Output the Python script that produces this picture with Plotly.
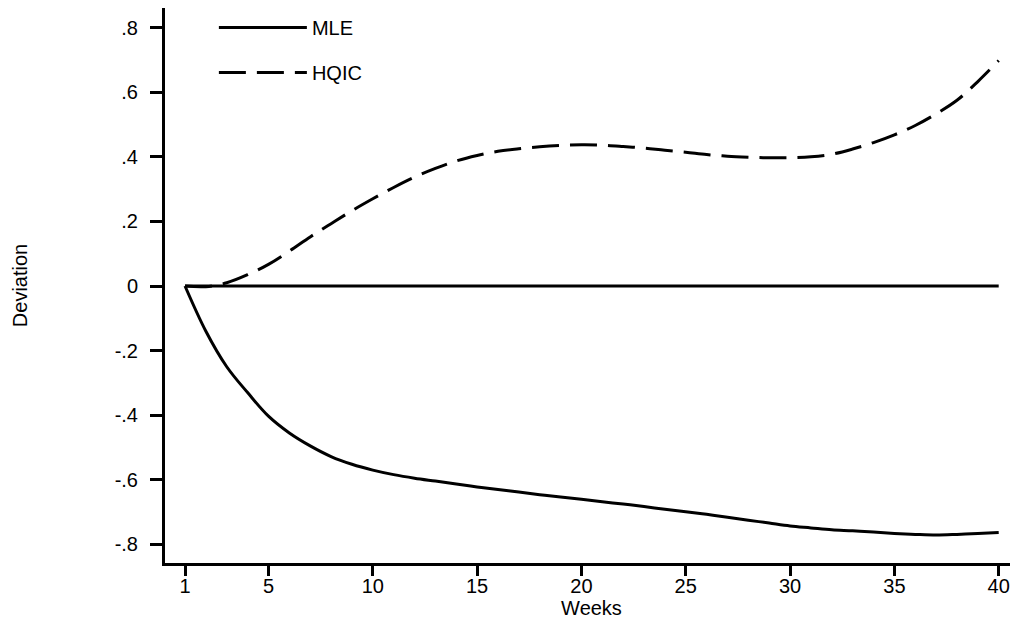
import plotly.graph_objects as go

weeks = list(range(1, 41))

mle = [0.0] * 40

hqic = [0.0, -0.002, 0.010, 0.035, 0.067, 0.108, 0.152, 0.193, 0.233, 0.270,
        0.305, 0.337, 0.364, 0.387, 0.404, 0.417, 0.425, 0.431, 0.435, 0.437,
        0.436, 0.432, 0.427, 0.420, 0.414, 0.407, 0.402, 0.399, 0.397, 0.397,
        0.400, 0.408, 0.424, 0.444, 0.468, 0.497, 0.533, 0.575, 0.633, 0.698]

lower = [0.0, -0.140, -0.250, -0.330, -0.403, -0.455, -0.495, -0.528, -0.552, -0.570,
         -0.584, -0.595, -0.604, -0.613, -0.622, -0.630, -0.638, -0.646, -0.653, -0.660,
         -0.668, -0.675, -0.683, -0.691, -0.699, -0.707, -0.716, -0.725, -0.734, -0.743,
         -0.749, -0.755, -0.758, -0.762, -0.766, -0.769, -0.771, -0.769, -0.766, -0.763]

x_ticks = [1, 5, 10, 15, 20, 25, 30, 35, 40]
y_ticks = [0.8, 0.6, 0.4, 0.2, 0.0, -0.2, -0.4, -0.6, -0.8]
y_ticktext = [".8", ".6", ".4", ".2", "0", "-.2", "-.4", "-.6", "-.8"]

FONT = "Arial, Liberation Sans, sans-serif"

fig = go.Figure()
fig.add_trace(go.Scatter(x=weeks, y=mle, mode="lines", name="MLE",
                         legendgroup="a",
                         line=dict(color="black", width=3)))
fig.add_trace(go.Scatter(x=weeks, y=hqic, mode="lines", name="HQIC",
                         legendgroup="b",
                         line=dict(color="black", width=3, dash="27px,11px", shape="spline")))
fig.add_trace(go.Scatter(x=weeks, y=lower, mode="lines", name="Deviation",
                         showlegend=False,
                         line=dict(color="black", width=3, shape="spline")))

fig.update_layout(
    width=1010, height=613,
    margin=dict(l=157, r=0, t=0, b=58, autoexpand=False),
    paper_bgcolor="white", plot_bgcolor="white",
    font=dict(family=FONT, size=20, color="black"),
    showlegend=True,
    legend=dict(x=0.0573, y=1.0, xanchor="left", yanchor="top",
                bgcolor="rgba(0,0,0,0)", borderwidth=0,
                font=dict(family=FONT, size=20, color="black"),
                traceorder="grouped", tracegroupgap=16, itemwidth=88),
    xaxis=dict(range=[0.041, 40.925], tickvals=x_ticks,
               showgrid=False, zeroline=False, automargin=False,
               showline=True, linecolor="black", linewidth=3,
               ticks="outside", ticklen=10, tickwidth=3, tickcolor="black",
               ticklabelstandoff=-7,
               tickfont=dict(family=FONT, size=20, color="black"),
               title=dict(text="Weeks", standoff=0,
                          font=dict(family=FONT, size=20, color="black"))),
    yaxis=dict(range=[-0.8576, 0.8607], tickvals=y_ticks, ticktext=y_ticktext,
               showgrid=False, zeroline=False, automargin=False,
               showline=True, linecolor="black", linewidth=3,
               ticks="outside", ticklen=12, tickwidth=3, tickcolor="black",
               ticklabelstandoff=8,
               tickfont=dict(family=FONT, size=20, color="black"),
               title=dict(text="Deviation", standoff=82,
                          font=dict(family=FONT, size=20, color="black"))),
)

fig.write_html("out.html")
